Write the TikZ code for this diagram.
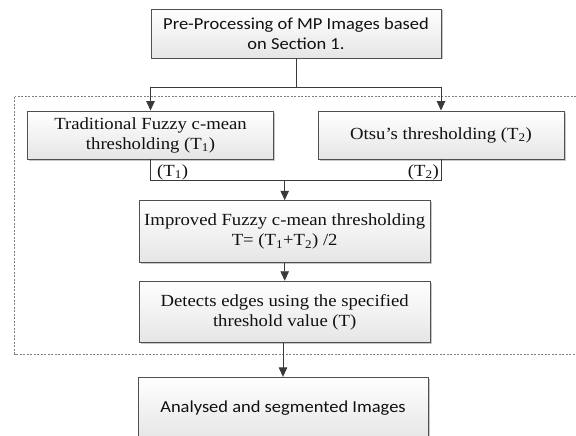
\documentclass[tikz,border=0pt]{standalone}
\usepackage{fontspec}
\setmainfont{Liberation Serif}[FakeStretch=1.1]
\newfontfamily\calfont{Carlito}[FakeStretch=1.1]
\usetikzlibrary{arrows.meta,shadows}
\definecolor{linec}{HTML}{3A3A3A}
\definecolor{boxc}{HTML}{505050}
\definecolor{txtc}{HTML}{111111}
\tikzset{
  stepbox/.style={draw=boxc, line width=0.9pt, top color=white, bottom color=black!10,
    drop shadow={shadow xshift=1.5pt, shadow yshift=-1.5pt, opacity=0.22, fill=black},
    align=center, inner sep=0pt, text=txtc, font=\fontsize{17}{20}\selectfont},
  sansbox/.style={stepbox, font=\calfont\fontsize{16.8}{20.5}\selectfont},
  conn/.style={draw=linec, line width=0.9pt},
  arr/.style={conn, -{Triangle[width=8.5pt,length=9.5pt]}},
  lbl/.style={inner sep=0pt, text=txtc, font=\fontsize{17}{20}\selectfont},
  dashbox/.style={draw=gray, line width=0.6pt, dash pattern=on 2pt off 1.5pt}
}
\begin{document}
\begin{tikzpicture}[x=1pt,y=-1pt]
\useasboundingbox (0,0) rectangle (576,436);
\clip (0,0) rectangle (576,436);
\fill[white] (0,0) rectangle (576,436);
\draw[dashbox] (14.7,96.7) rectangle (600,354);

\node[sansbox, minimum width=290pt, minimum height=49pt] (pre) at (296,33.5)
  {Pre-Processing of MP Images based\\on Section 1.};
\node[stepbox, minimum width=245.6pt, minimum height=48pt] (trad) at (150.5,135)
  {Traditional Fuzzy c-mean\\thresholding (T\textsubscript{1})};
\node[stepbox, minimum width=246pt, minimum height=48pt] (otsu) at (441,135)
  {Otsu's thresholding (T\textsubscript{2})};
\node[stepbox, minimum width=291pt, minimum height=61.6pt] (imp) at (284.7,231.5)
  {Improved Fuzzy c-mean thresholding\\T= (T\textsubscript{1}+T\textsubscript{2}) /2};
\node[stepbox, minimum width=291pt, minimum height=61.6pt] (det) at (284.7,312)
  {Detects edges using the specified\\threshold value (T)};
\node[sansbox, minimum width=290pt, minimum height=62pt] (ana) at (283,408.3)
  {Analysed and segmented Images};

\coordinate (split) at (296,87);
\coordinate (merge) at (284.7,180);
\draw[conn] (pre) -- (split);
\draw[arr] (split) -| (trad);
\draw[arr] (split) -| (otsu);
\draw[conn] (trad.south) |- (merge);
\draw[conn] (otsu.south) |- (merge);
\draw[arr] (merge) -- (imp);
\draw[arr] (imp) -- (det);
\draw[arr] (ana.north |- det.south) -- (ana.north);

\node[lbl, anchor=base west] (l1) at (157,176) {(T\textsubscript{1})};
\node[lbl, anchor=base east] (l2) at (439,176) {(T\textsubscript{2})};
\end{tikzpicture}
\end{document}
